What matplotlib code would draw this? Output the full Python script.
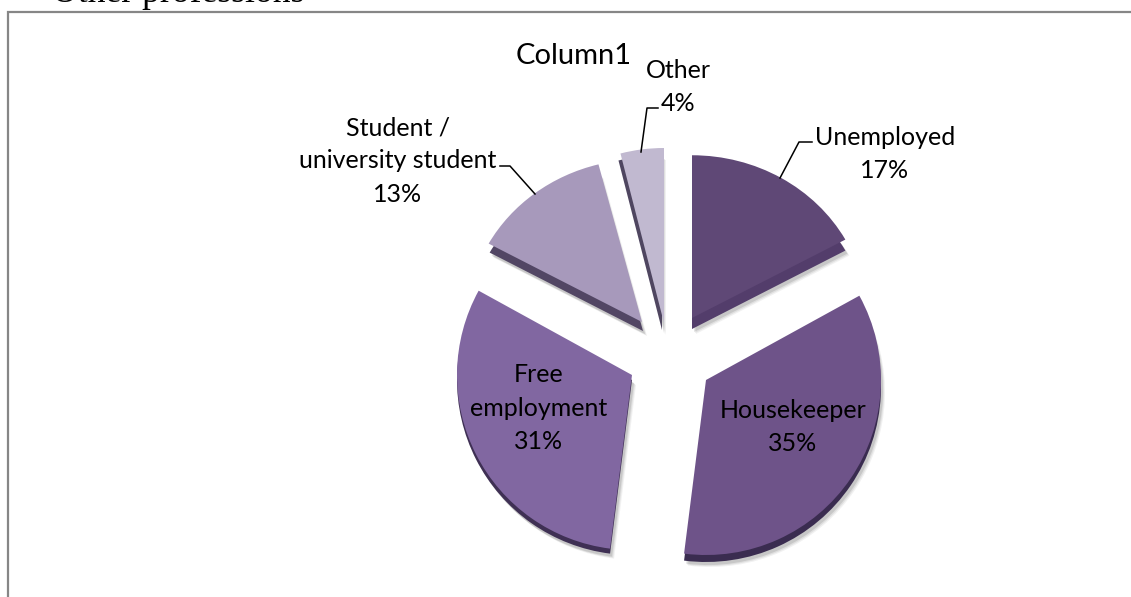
import matplotlib
matplotlib.use("Agg")
import matplotlib.pyplot as plt
from matplotlib.patches import Rectangle
from matplotlib.transforms import Affine2D

plt.rcParams["font.family"] = ["Lato", "DejaVu Sans"]

W, H = 1131, 597

# Data
categories = ["Unemployed", "Housekeeper", "Free\nemployment", "Student /\nuniversity student", "Other"]
shares = [17, 35, 31, 13, 4]

# Slice styles, y counted from the top of the image
colors = ["#5F4876", "#6E5389", "#8167A1", "#A799BB", "#C1B9D0"]
edge_colors = ["#533D6B", "#3A2C50", "#3F3054", "#524664", "#4F4660"]
apexes = [(692, 318), (706, 380), (632, 375), (642, 322), (664, 323)]
squash = [0.93, 1, 1, 0.93, 1]
depths = [(0, 11), (0, 7), (0, 5), (1, 9), (-2, 7)]


def py(y):
    return H - y


def draw_pie(offsets, cols, alpha=1.0):
    wedges, _ = ax.pie(shares, colors=cols, startangle=90, counterclock=False,
                       radius=175, center=(0, 0), frame=True,
                       wedgeprops={"alpha": alpha, "linewidth": 0})
    for w, (x, y), k, (dx, dy) in zip(wedges, apexes, squash, offsets):
        w.set_transform(Affine2D().scale(1, k).translate(x + dx, py(y + dy)) + ax.transData)


fig = plt.figure(figsize=(W / 100, H / 100), dpi=100)
ax = fig.add_axes([0, 0, 1, 1])

# soft shadow, then the side of the slices, then the tops
for dx, dy, a in [(4, 5, 0.07), (3, 4, 0.10), (2, 3, 0.15)]:
    draw_pie([(dx + ox, dy + oy) for ox, oy in depths], ["#444444"] * 5, alpha=a)
draw_pie(depths, edge_colors)
draw_pie([(0, 0)] * 5, colors)

ax.set_xlim(0, W)
ax.set_ylim(0, H)
ax.set_xticks([])
ax.set_yticks([])
ax.axis("off")

# Chart frame
ax.add_patch(Rectangle((7.5, -10), W + 10, py(12) + 10, fill=False, ec="#868686", lw=1.6))

# Text above the chart, cut by the image edge
ax.text(52, py(2), "Other professions", family="Liberation Serif", fontsize=25.7,
        va="baseline", ha="left", color="black")

ax.text(574, py(56), "Column1", fontsize=21, ha="center", va="center", color="black")

label_font = {"fontsize": 18, "ha": "center", "va": "center", "color": "black", "linespacing": 1.55}
label_spots = [(885, 154), (793, 427), (539, 408), (398, 161), (678, 87)]
for name, share, (x, y) in zip(categories, shares, label_spots):
    ax.text(x, py(y), f"{name}\n{share}%", **label_font)

# Leader lines
leaders = [
    ([812, 799, 780], [142, 142, 178]),
    ([500, 510, 535], [166, 166, 194]),
    ([658, 647, 641], [108, 108, 152]),
]
for xs, ys in leaders:
    ax.plot(xs, [py(y) for y in ys], color="black", lw=1.1)

fig.savefig("out.png", dpi=100)
